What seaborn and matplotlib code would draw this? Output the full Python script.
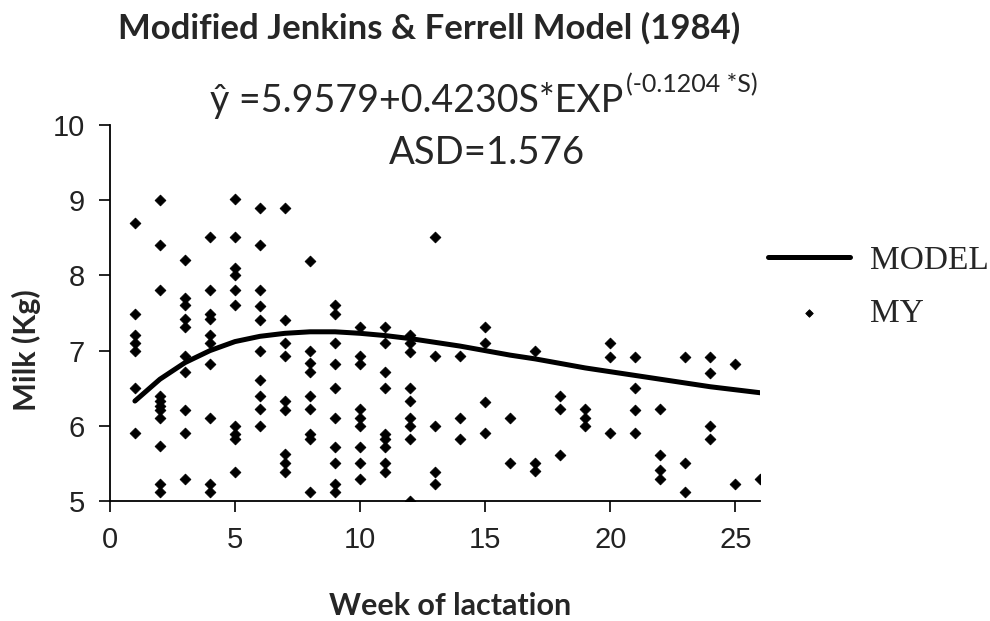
import matplotlib
matplotlib.use("Agg")
import matplotlib.pyplot as plt
import seaborn as sns
import pandas as pd

# ---- data ----
weeks_obs = (
    [1]*7 + [2]*11 + [3]*10 + [4]*10 + [5]*10 + [6]*10 + [7]*9 + [8]*9 + [9]*10 +
    [10]*9 + [11]*9 + [12]*9 + [13]*5 + [14]*3 + [15]*4 + [16]*2 + [17]*3 + [18]*3 +
    [19]*3 + [20]*3 + [21]*4 + [22]*4 + [23]*3 + [24]*4 + [25]*2 + [26]*1
)
milk_obs = [
    8.69, 7.49, 7.21, 7.10, 6.99, 6.50, 5.90,
    9.00, 8.40, 7.80, 6.40, 6.33, 6.27, 6.21, 6.11, 5.73, 5.23, 5.12,
    8.20, 7.70, 7.61, 7.42, 7.31, 6.93, 6.71, 6.21, 5.90, 5.29,
    8.51, 7.80, 7.49, 7.42, 7.21, 7.10, 6.82, 6.11, 5.23, 5.12,
    9.01, 8.51, 8.10, 8.01, 7.80, 7.60, 6.00, 5.89, 5.83, 5.39,
    8.90, 8.40, 7.80, 7.59, 7.41, 6.99, 6.61, 6.40, 6.22, 6.00,
    8.90, 7.41, 7.10, 6.93, 6.33, 6.21, 5.62, 5.51, 5.39,
    8.19, 6.99, 6.84, 6.71, 6.40, 6.22, 5.89, 5.82, 5.12,
    7.60, 7.48, 7.10, 6.82, 6.50, 6.11, 5.72, 5.51, 5.23, 5.12,
    7.31, 6.93, 6.82, 6.22, 6.11, 6.00, 5.72, 5.51, 5.29,
    7.31, 7.10, 6.71, 6.50, 5.89, 5.82, 5.72, 5.51, 5.39,
    7.21, 7.10, 6.98, 6.50, 6.33, 6.11, 6.00, 5.82, 5.00,
    8.51, 6.93, 6.00, 5.39, 5.23,
    6.93, 6.11, 5.82,
    7.31, 7.10, 6.32, 5.90,
    6.11, 5.51,
    6.99, 5.51, 5.40,
    6.40, 6.22, 5.61,
    6.22, 6.11, 6.00,
    7.10, 6.92, 5.90,
    6.92, 6.50, 6.21, 5.90,
    6.22, 5.61, 5.42, 5.29,
    6.92, 5.51, 5.12,
    6.92, 6.70, 6.00, 5.82,
    6.82, 5.23,
    5.29,
]
weeks_model = list(range(1, 27))
milk_model = [6.33, 6.62, 6.84, 7.00, 7.12, 7.19, 7.23, 7.25, 7.25, 7.23,
              7.20, 7.16, 7.11, 7.06, 7.00, 6.94, 6.89, 6.83, 6.77, 6.72,
              6.67, 6.62, 6.57, 6.52, 6.48, 6.44]
x_ticks = [0, 5, 10, 15, 20, 25]
y_ticks = [5, 6, 7, 8, 9, 10]

title = "Modified Jenkins & Ferrell Model (1984)"
equation = "ŷ =5.9579+0.4230S*EXP"
equation_sup = "(-0.1204 *S)"
asd_text = "ASD=1.576"

df_obs = pd.DataFrame({"week": weeks_obs, "milk": milk_obs})
df_model = pd.DataFrame({"week": weeks_model, "milk": milk_model})

sns.set_style("ticks")
plt.rcParams["font.family"] = ["Liberation Sans", "DejaVu Sans"]

fig = plt.figure(figsize=(9.9, 6.21), dpi=100)
ax = fig.add_axes([0.111, 0.193, 0.657, 0.606])

sns.lineplot(data=df_model, x="week", y="milk", ax=ax, color="black",
             linewidth=3.6, label="MODEL")
sns.scatterplot(data=df_obs, x="week", y="milk", ax=ax, color="black",
                marker="D", s=30, edgecolor="black", linewidth=0.6, label="MY")

ax.set_xlim(0, 26)
ax.set_ylim(5, 10)
ax.set_xticks(x_ticks)
ax.set_yticks(y_ticks)
ax.tick_params(axis="both", labelsize=21, length=8, width=1.2, color="black",
               labelcolor="#222222", pad=10)
for s in ["top", "right"]:
    ax.spines[s].set_visible(False)
for s in ["left", "bottom"]:
    ax.spines[s].set_linewidth(1.3)
    ax.spines[s].set_color("black")
ax.set_xlabel("")
ax.set_ylabel("")

lato = ["Lato", "DejaVu Sans"]
fig.text(0.4545, 0.024, "Week of lactation", ha="center", va="center",
         fontsize=22, fontweight="bold", family=lato)
fig.text(0.027, 0.436, "Milk (Kg)", ha="center", va="center", rotation=90,
         fontsize=22, fontweight="bold", family=lato)
fig.text(0.433, 0.955, title, ha="center", va="center",
         fontsize=25, fontweight="bold", family=lato)
fig.text(0.6293, 0.838, equation, ha="right", va="center",
         fontsize=27, family=lato)
fig.text(0.632, 0.863, equation_sup, ha="left", va="center",
         fontsize=18, family=lato)
fig.text(0.492, 0.754, asd_text, ha="center", va="center",
         fontsize=27.5, family=lato)

leg = ax.legend(loc="center left", bbox_to_anchor=(0.7758, 0.538),
                bbox_transform=fig.transFigure, frameon=False,
                prop={"family": "Liberation Serif", "size": 24},
                handlelength=2.45, handletextpad=0.6, labelspacing=0.68,
                borderaxespad=0, borderpad=0, markerscale=0.7)

fig.savefig("out.png", dpi=100, facecolor="white")
